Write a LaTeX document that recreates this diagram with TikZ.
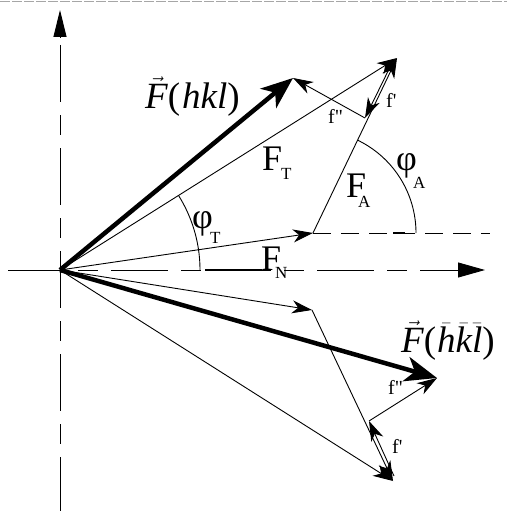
\documentclass[tikz,border=0pt]{standalone}
\usepackage{fontspec}
\setmainfont{Liberation Serif}
\usetikzlibrary{arrows.meta}
\begin{document}
\begin{tikzpicture}[x=1pt,y=-1pt,
  thinline/.style={line width=0.9pt},
  thinarrow/.style={line width=0.9pt,-{Stealth[length=20pt,width=13pt,inset=6pt]}},
  thickarrow/.style={line width=4.5pt,-{Stealth[length=32pt,width=25pt,inset=9pt]}},
  axisline/.style={line width=0.9pt,dash pattern=on 57pt off 13pt on 20pt off 13pt},
  biglabel/.style={font=\fontsize{37}{42}\selectfont, inner sep=0pt, anchor=base west},
  mainlabel/.style={font=\fontsize{36}{40}\selectfont, inner sep=0pt, anchor=base west},
  sublabel/.style={font=\fontsize{17}{20}\selectfont, inner sep=0pt, anchor=base west},
  smalllabel/.style={font=\fontsize{20}{24}\selectfont, inner sep=0pt, anchor=base west},
]
\useasboundingbox (0,0) rectangle (507,511);
% top border
\draw[gray!70, line width=1.2pt, dash pattern=on 10pt off 2pt] (0,1.5) -- (507,1.5);
% coordinates
\coordinate (O) at (60,270);
\coordinate (N1) at (313,233);
\coordinate (T1) at (397,58);
\coordinate (H1) at (293,78);
\coordinate (P1s) at (392,63);
\coordinate (P1) at (365,118);
\coordinate (N2) at (312,310);
\coordinate (T2) at (393,481);
\coordinate (P2s) at (394,476);
\coordinate (P2) at (369,421);
\coordinate (H2) at (437,378);
\coordinate (Vb) at (60,511);
\coordinate (Vs) at (60,45);
\coordinate (Va) at (60,38);
\coordinate (Vt) at (60,10);
\coordinate (Hl) at (8,270);
\coordinate (Hr) at (485,270);
\coordinate (Dr) at (490,233);
% axes
\draw[axisline] (Vs) -- (Vb);
\draw[line width=0.9pt,-{Triangle[length=27pt,width=13pt]}] (Va) -- (Vt);
\draw[axisline,-{Triangle[length=27pt,width=15pt]}] (Hl) -- (Hr);
\draw[line width=0.9pt, dash pattern=on 18pt off 10pt] (N1) -- (Dr);
\draw[line width=1.2pt] (205,270) -- (262,270);
\draw[line width=1.2pt] (393,233) -- (405,233);
% angle arcs
\draw[thinline] plot[domain=0:32.2, samples=40] ({60+140*cos(\x)},{270-140*sin(\x)});
\draw[thinline] plot[domain=0:64.4, samples=40] ({313+103*cos(\x)},{233-103*sin(\x)});
% upper construction
\draw[thinarrow] (O) -- (N1);
\draw[thinarrow] (N1) -- (T1);
\draw[thinarrow] (O) -- (T1);
\draw[thinarrow] (P1s) -- (P1);
\draw[thinarrow] (P1) -- (H1);
% lower construction
\draw[thinarrow] (O) -- (N2);
\draw[thinarrow] (N2) -- (T2);
\draw[thinarrow] (O) -- (T2);
\draw[thinarrow] (P2s) -- (P2);
\draw[thinarrow] (P2) -- (H2);
% thick vectors
\draw[thickarrow] (O) -- (H1);
\draw[thickarrow] (O) -- (H2);
% labels
\node[biglabel] (LH1) at (145,108) {$\vec{\textit{F}}$(\kern2pt\textit{hkl})};
\node[biglabel] (LH2) at (401,352) {$\vec{\textit{F}}$(\kern1pt$\bar{\textit{h}}\bar{\textit{k}}\bar{\textit{l}}$)};
\node[mainlabel] (LFT) at (262,170) {F};
\node[sublabel] (LFTs) at (281,179) {T};
\node[mainlabel] (LFA) at (346,197) {F};
\node[sublabel] (LFAs) at (358,207) {A};
\node[mainlabel] (LFN) at (261,270) {F};
\node[sublabel] (LFNs) at (275,278) {N};
\node[mainlabel] (LPT) at (192,228) {φ};
\node[sublabel] (LPTs) at (210,243) {T};
\node[mainlabel] (LPA) at (396,170) {φ};
\node[sublabel] (LPAs) at (413,188) {A};
\node[smalllabel] (Lf2a) at (328,123) {f\textquotedbl};
\node[smalllabel] (Lf1a) at (386,107) {f\textquotesingle};
\node[smalllabel] (Lf2b) at (388,394) {f\textquotedbl};
\node[smalllabel] (Lf1b) at (392,453) {f\textquotesingle};
\end{tikzpicture}
\end{document}
